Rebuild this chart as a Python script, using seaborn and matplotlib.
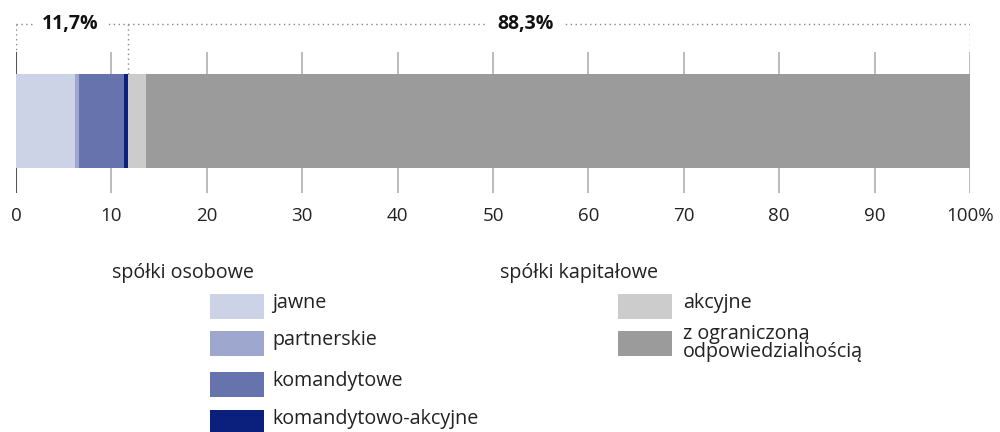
import numpy as np
import pandas as pd
import matplotlib.pyplot as plt
from matplotlib.patches import Rectangle
import seaborn as sns

# shares of companies by legal form, %
segments = ["jawne", "partnerskie", "komandytowe", "komandytowo-akcyjne",
            "akcyjne", "z ograniczoną\nodpowiedzialnością"]
shares = [6.2, 0.4, 4.7, 0.4, 1.9, 86.4]
colors = ["#cdd3e6", "#9ea8cf", "#6673ad", "#0b1f7c", "#cccccc", "#9b9b9b"]
groups = ["spółki osobowe"] * 4 + ["spółki kapitałowe"] * 2
group_totals = ["11,7%", "88,3%"]
xticks = [0, 10, 20, 30, 40, 50, 60, 70, 80, 90, 100]
xticklabels = ["0", "10", "20", "30", "40", "50", "60", "70", "80", "90", "100%"]

sns.set_theme(style="white")
plt.rcParams['font.family'] = ['Open Sans', 'DejaVu Sans']

W, H = 1000, 432
fig = plt.figure(figsize=(W / 100, H / 100), dpi=100)

# bar axes: x 16..970 px, y 0..193 px
ax = fig.add_axes([16 / W, 1 - 193 / H, 954 / W, 193 / H])

df = pd.DataFrame({"segment": segments, "share": shares, "color": colors, "group": groups})
df["cum"] = df["share"].cumsum()

# stacked bar: draw cumulative totals from the largest down
for _, row in df.iloc[::-1].iterrows():
    sns.barplot(x=[row["cum"]], y=["all"], orient="h", color=row["color"],
                saturation=1, width=0.8, linewidth=0, ax=ax, zorder=2)

ax.set_xlim(0, 100)
ax.set_ylim(0.613, -1.030)
ax.set_ylabel("")
ax.set_xlabel("")
ax.set_yticks([])

# gridlines behind the bar
for t in xticks:
    ax.vlines(t, -0.587, 0.613, color="#555555" if t == 0 else "#b0b0b0",
              lw=1.5 if t == 0 else 1.2, zorder=1)

ax.set_xticks(xticks)
ax.set_xticklabels(xticklabels, fontsize=13.5, color="#222222")
ax.tick_params(axis="x", length=0, pad=10)
for s in ax.spines.values():
    s.set_visible(False)

# group brackets
y_top = -0.825
dot = (0, (1, 2.5))
split = df.loc[df["group"] == "spółki osobowe", "share"].sum()
ax.hlines(y_top, 0, 100, color="#888888", lw=1, linestyles=dot, zorder=1)
ax.vlines(0, y_top, -0.587, color="#888888", lw=1, linestyles=dot)
ax.vlines(100, y_top, -0.587, color="#888888", lw=1, linestyles=dot)
ax.vlines(split, y_top, -0.4, color="#888888", lw=1, linestyles=dot)
ax.text(5.7, y_top, group_totals[0], ha="center", va="center", fontsize=14,
        fontweight="bold", color="#111111",
        bbox=dict(facecolor="white", edgecolor="none", pad=5), zorder=3)
ax.text(53.4, y_top, group_totals[1], ha="center", va="center", fontsize=14,
        fontweight="bold", color="#111111",
        bbox=dict(facecolor="white", edgecolor="none", pad=8), zorder=3)

# legend in pixel coordinates
lg = fig.add_axes([0, 0, 1, 1])
lg.set_xlim(0, W)
lg.set_ylim(H, 0)
lg.axis("off")
lg.patch.set_alpha(0)

layout = {"spółki osobowe": (112, 210, 272), "spółki kapitałowe": (500, 618, 683)}
row_y = [306, 343, 384, 422]
for g, (hx, px, tx) in layout.items():
    lg.text(hx, 273, g, ha="left", va="center", fontsize=14.2, color="#222222")
    sub = df[df["group"] == g].reset_index(drop=True)
    for i, row in sub.iterrows():
        cy = row_y[i]
        lg.add_patch(Rectangle((px, cy - 12.5), 54, 25, facecolor=row["color"], edgecolor="none"))
        lg.text(tx, cy - 3 + (3 if "\n" in row["segment"] else 0), row["segment"],
                ha="left", va="center", fontsize=14.2, color="#222222", linespacing=0.8)

fig.savefig("out.png", dpi=100)
